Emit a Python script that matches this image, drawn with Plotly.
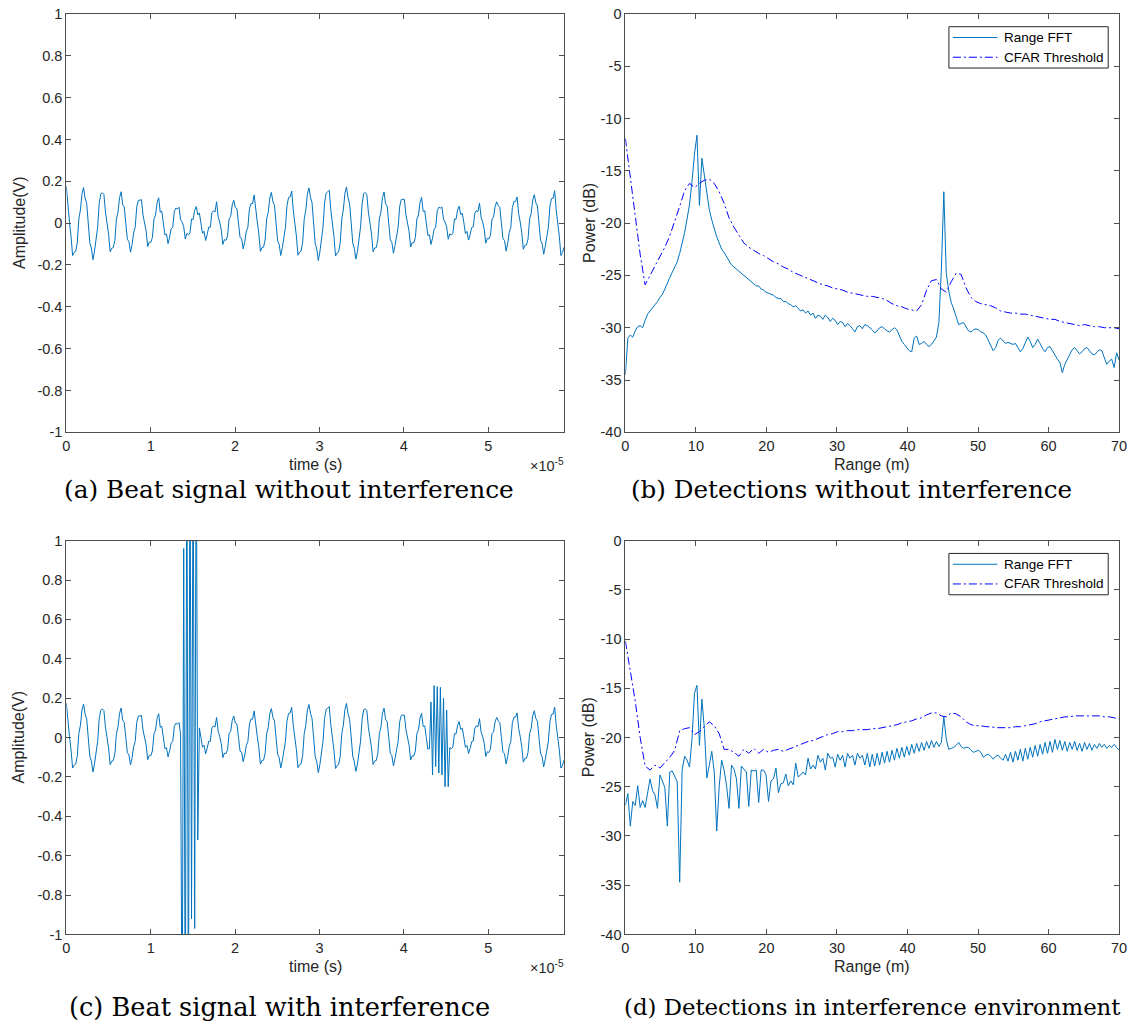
import numpy as np
import plotly.graph_objects as go

# ---------------- data ----------------
SAMPLE_PERIOD = 1.855e-7  # s between beat-signal samples

beat_clean = [
    0.175, 0.063, 0.005, -0.063, -0.155, -0.14, -0.135, -0.093, 0.02, 0.063, 0.14, 0.17,
    0.119, 0.095, 0.0, -0.095, -0.119, -0.175, -0.134, -0.065, -0.02, 0.095, 0.139, 0.145,
    0.137, 0.053, 0.005, -0.053, -0.137, -0.12, -0.117, -0.083, 0.02, 0.053, 0.122, 0.15,
    0.088, 0.077, 0.0, -0.077, -0.088, -0.139, -0.103, -0.047, -0.02, 0.077, 0.108, 0.109,
    0.112, 0.038, 0.005, -0.038, -0.112, -0.091, -0.092, -0.068, 0.02, 0.038, 0.097, 0.121,
    0.052, 0.057, 0.0, -0.057, -0.052, -0.098, -0.067, -0.027, -0.02, 0.057, 0.072, 0.068,
    0.076, 0.017, 0.005, -0.017, -0.076, -0.049, -0.056, -0.047, 0.02, 0.017, 0.061, 0.079,
    0.039, 0.049, 0.0, -0.049, -0.039, -0.083, -0.054, -0.019, -0.02, 0.049, 0.059, 0.053,
    0.102, 0.032, 0.005, -0.032, -0.102, -0.079, -0.082, -0.062, 0.02, 0.032, 0.087, 0.109,
    0.074, 0.069, 0.0, -0.069, -0.074, -0.123, -0.089, -0.039, -0.02, 0.069, 0.094, 0.093,
    0.135, 0.051, 0.005, -0.051, -0.135, -0.117, -0.115, -0.081, 0.02, 0.051, 0.12, 0.147,
    0.102, 0.085, 0.0, -0.085, -0.102, -0.155, -0.117, -0.055, -0.02, 0.085, 0.122, 0.125,
    0.153, 0.062, 0.005, -0.062, -0.153, -0.138, -0.133, -0.092, 0.02, 0.062, 0.138, 0.168,
    0.123, 0.097, 0.0, -0.097, -0.123, -0.179, -0.138, -0.067, -0.02, 0.097, 0.143, 0.149,
    0.157, 0.064, 0.005, -0.064, -0.157, -0.143, -0.137, -0.094, 0.02, 0.064, 0.142, 0.173,
    0.121, 0.092, 0.003, -0.095, -0.121, -0.172, -0.136, -0.063, -0.018, 0.093, 0.141, 0.146,
    0.137, 0.052, 0.005, -0.052, -0.137, -0.119, -0.117, -0.082, 0.02, 0.052, 0.122, 0.149,
    0.092, 0.08, 0.0, -0.08, -0.092, -0.144, -0.107, -0.05, -0.02, 0.08, 0.112, 0.114,
    0.114, 0.039, 0.005, -0.039, -0.114, -0.093, -0.094, -0.069, 0.02, 0.039, 0.099, 0.123,
    0.056, 0.059, 0.0, -0.059, -0.056, -0.102, -0.071, -0.029, -0.02, 0.059, 0.076, 0.072,
    0.077, 0.018, 0.005, -0.018, -0.077, -0.051, -0.057, -0.048, 0.02, 0.018, 0.062, 0.081,
    0.041, 0.047, 0.002, -0.05, -0.04, -0.081, -0.055, -0.021, -0.018, 0.047, 0.06, 0.055,
    0.096, 0.029, 0.005, -0.029, -0.096, -0.072, -0.076, -0.059, 0.02, 0.029, 0.081, 0.102,
    0.083, 0.075, 0.0, -0.075, -0.083, -0.134, -0.098, -0.045, -0.02, 0.075, 0.103, 0.104,
    0.125, 0.046, 0.005, -0.046, -0.125, -0.106, -0.105, -0.076, 0.02, 0.046, 0.11, 0.136,
    0.097, 0.082, 0.0, -0.082, -0.097, -0.149, -0.112, -0.052, -0.02, 0.082, 0.117, 0.119,
    0.155, 0.063, 0.005, -0.063, -0.155, -0.14, -0.115,
]

# interference bursts (sample index where each starts, and the sample values)
burst1_start = 74
burst1 = [-1.6, 0.96, -1.6, 1.6, -1.6, 1.6, -0.92, 1.6, -0.97, 1.6, -0.52]
burst2_start = 233
burst2 = [0.18, -0.19, 0.264, -0.148, 0.259, -0.18, 0.255, -0.19, 0.2, -0.25, 0.14, -0.25]

RANGE_STEP_FFT = 0.35   # m per FFT bin
RANGE_STEP_CFAR = 0.7   # m per CFAR value

fft_clean = [
    -34.5, -31.0, -30.7, -30.9, -30.3, -29.9, -29.8, -30.0, -29.3, -28.7,
    -28.4, -28.1, -27.9, -27.5, -27.1, -26.8, -26.3, -25.7, -25.2, -24.7,
    -24.2, -23.7, -22.9, -22.0, -20.9, -19.6, -18.2, -16.0, -13.4, -11.6,
    -18.3, -13.8, -15.6, -17.3, -18.7, -19.7, -20.6, -21.3, -21.9, -22.5,
    -22.8, -23.2, -23.6, -24.0, -24.2, -24.4, -24.6, -24.8, -25.0, -25.2,
    -25.4, -25.6, -25.8, -26.0, -26.0, -26.3, -26.4, -26.6, -26.7, -26.8,
    -26.9, -27.1, -27.2, -27.2, -27.5, -27.5, -27.7, -27.8, -28.0, -27.9,
    -28.2, -28.4, -28.3, -28.6, -28.4, -28.8, -28.6, -29.1, -28.8, -28.9,
    -29.2, -28.8, -29.0, -29.4, -29.1, -29.3, -29.7, -29.4, -29.5, -29.9,
    -29.6, -29.8, -30.1, -30.4, -29.9, -29.8, -30.1, -29.7, -29.8, -30.0,
    -30.2, -30.5, -30.3, -30.0, -29.9, -30.1, -30.3, -30.4, -30.2, -30.0,
    -30.2, -30.8, -31.3, -31.6, -31.9, -32.2, -32.3, -31.0, -30.8, -31.6,
    -31.5, -31.3, -31.6, -31.8, -31.6, -31.2, -30.9, -29.5, -24.5, -17.0,
    -24.8, -26.5, -27.6, -28.2, -28.9, -29.7, -29.6, -29.5, -29.9, -30.3,
    -30.4, -30.2, -30.1, -30.2, -30.4, -30.5, -30.7, -31.2, -31.8, -32.2,
    -31.9, -31.2, -31.0, -31.3, -31.5, -31.4, -31.5, -31.6, -31.5, -31.9,
    -32.3, -32.0, -31.4, -30.9, -31.3, -31.9, -31.6, -31.1, -31.5, -32.0,
    -32.3, -31.9, -31.8, -32.2, -32.7, -33.0, -33.3, -34.3, -33.5, -33.0,
    -32.5, -32.1, -31.9, -32.2, -32.5, -32.3, -32.0, -31.9, -32.2, -32.5,
    -32.6, -32.3, -32.1, -32.2, -32.8, -33.5, -33.2, -33.0, -33.8, -32.4,
    -33.1,
]

cfar_clean = [
    -11.9, -15.5, -19.3, -23.0, -25.9, -25.0, -24.0, -23.2, -22.3, -21.2,
    -19.9, -18.4, -16.9, -16.2, -16.6, -16.2, -15.9, -15.8, -16.2, -17.0,
    -18.1, -19.5, -20.4, -21.2, -21.9, -22.3, -22.6, -22.9, -23.1, -23.4,
    -23.7, -23.9, -24.2, -24.4, -24.7, -24.9, -25.1, -25.3, -25.5, -25.7,
    -25.9, -26.0, -26.2, -26.3, -26.4, -26.6, -26.7, -26.8, -26.9, -27.0,
    -27.0, -27.1, -27.2, -27.4, -27.7, -27.9, -28.0, -28.2, -28.3, -28.4,
    -27.8, -26.4, -25.5, -25.4, -26.3, -26.6, -25.6, -24.8, -24.9, -26.2,
    -27.1, -27.5, -27.7, -27.8, -27.9, -28.1, -28.4, -28.5, -28.6, -28.6,
    -28.7, -28.7, -28.8, -28.9, -29.0, -29.1, -29.2, -29.2, -29.4, -29.5,
    -29.6, -29.7, -29.8, -29.7, -29.8, -29.9, -29.9, -30.0, -30.0, -30.0,
    -30.1,
]

fft_interf = [
    -26.9, -25.7, -29.0, -26.5, -26.9, -24.9, -27.1, -26.4, -27.1, -25.6,
    -24.2, -25.4, -25.8, -27.2, -23.8, -24.4, -25.1, -29.0, -23.5, -23.4,
    -24.0, -24.5, -34.7, -23.3, -21.9, -22.3, -23.0, -20.1, -15.5, -14.7,
    -20.8, -16.1, -19.1, -24.1, -22.8, -21.4, -23.5, -29.5, -25.0, -22.3,
    -23.3, -24.9, -27.2, -22.8, -23.2, -24.2, -27.2, -22.9, -23.2, -23.5,
    -27.0, -23.3, -23.4, -23.3, -26.6, -23.3, -23.3, -23.8, -26.5, -24.4,
    -24.2, -23.1, -25.6, -24.7, -24.6, -23.7, -24.9, -24.4, -24.8, -22.6,
    -24.0, -23.8, -23.5, -23.8, -22.1, -23.2, -22.8, -23.2, -21.8, -22.5,
    -22.1, -23.3, -21.6, -22.1, -22.0, -23.0, -21.7, -22.3, -21.8, -23.0,
    -21.6, -22.1, -21.8, -22.8, -21.6, -22.1, -21.8, -22.8, -21.6, -23.0,
    -21.7, -22.9, -21.6, -22.8, -21.5, -22.6, -21.4, -22.5, -21.3, -22.3,
    -21.1, -22.1, -21.0, -22.0, -20.9, -21.8, -20.7, -21.6, -20.6, -21.4,
    -20.5, -21.3, -20.4, -21.1, -20.3, -21.0, -20.4, -20.9, -20.5, -17.9,
    -20.2, -21.2, -21.1, -21.0, -20.8, -20.5, -20.9, -21.1, -21.0, -21.0,
    -21.3, -21.5, -21.4, -21.3, -21.5, -22.0, -21.8, -21.7, -21.9, -22.2,
    -21.9, -21.8, -22.1, -22.3, -21.7, -22.4, -21.5, -22.5, -21.4, -22.3,
    -21.2, -22.4, -21.1, -22.2, -21.0, -22.0, -20.8, -21.9, -20.7, -21.7,
    -20.5, -21.6, -20.4, -21.5, -20.2, -21.2, -20.3, -21.3, -20.4, -21.4,
    -20.5, -21.2, -20.4, -21.3, -20.6, -21.4, -20.5, -21.2, -20.6, -21.3,
    -20.7, -21.1, -20.6, -21.0, -20.7, -21.1, -20.8, -21.0, -20.7, -21.0,
    -21.3,
]

cfar_interf = [
    -10.2, -13.1, -16.3, -20.0, -22.9, -23.3, -22.8, -23.1, -22.6, -22.0,
    -21.3, -19.3, -19.1, -19.0, -19.7, -19.4, -18.9, -18.4, -18.8, -19.6,
    -21.2, -21.2, -21.5, -21.9, -21.2, -21.6, -21.1, -21.6, -21.2, -21.5,
    -21.3, -21.2, -21.4, -21.2, -21.0, -20.8, -20.6, -20.4, -20.3, -20.1,
    -19.9, -19.7, -19.6, -19.4, -19.4, -19.3, -19.3, -19.2, -19.2, -19.2,
    -19.1, -19.1, -19.0, -18.9, -18.8, -18.7, -18.5, -18.4, -18.3, -18.1,
    -18.0, -17.7, -17.5, -17.5, -17.8, -17.9, -17.5, -17.6, -17.9, -18.4,
    -18.7, -18.8, -18.8, -18.9, -18.9, -19.0, -19.0, -19.0, -19.0, -18.9,
    -18.9, -18.8, -18.7, -18.6, -18.4, -18.3, -18.2, -18.1, -18.0, -17.9,
    -17.9, -17.8, -17.8, -17.8, -17.8, -17.8, -17.8, -17.9, -17.9, -18.0,
    -18.1,
]

time_ticks = [0, 1, 2, 3, 4, 5]
amp_ticks = [-1, -0.8, -0.6, -0.4, -0.2, 0, 0.2, 0.4, 0.6, 0.8, 1]
range_ticks = [0, 10, 20, 30, 40, 50, 60, 70]
power_ticks = [-40, -35, -30, -25, -20, -15, -10, -5, 0]

legend_names = ["Range FFT", "CFAR Threshold"]
captions = ["(a) Beat signal without interference",
            "(b) Detections without interference",
            "(c) Beat signal with interference",
            "(d) Detections in interference environment"]

# ---------------- derived series ----------------
t = np.arange(len(beat_clean)) * SAMPLE_PERIOD
beat_interf = list(beat_clean)
beat_interf[burst1_start:burst1_start + len(burst1)] = burst1
beat_interf[burst2_start:burst2_start + len(burst2)] = burst2
r_fft_clean = np.arange(len(fft_clean)) * RANGE_STEP_FFT
r_fft_interf = np.arange(len(fft_interf)) * RANGE_STEP_FFT
r_cfar_clean = np.arange(len(cfar_clean)) * RANGE_STEP_CFAR
r_cfar_interf = np.arange(len(cfar_interf)) * RANGE_STEP_CFAR

# ---------------- layout helpers ----------------
W, H = 1136, 1034
def px(x):
    return x / W
def py(y):
    return 1 - y / H

LEFT = (63, 566)
RIGHT = (628, 1127)
TOP = (6, 431)
BOT = (541, 941)

BLUE = '#0072BD'
CFAR_BLUE = '#0000FF'
CFAR_DASH = '8px,3px,2px,3px'
SANS = 'Liberation Sans, Arial, sans-serif'
TFONT = dict(family=SANS, size=14.5, color='#262626')
AXC = '#4d4d4d'

def fmt(v):
    return '%g' % v

def axis_style(**kw):
    d = dict(showline=True, linecolor=AXC, linewidth=1, mirror='ticks',
             ticks='inside', ticklen=5, tickwidth=1, tickcolor=AXC,
             showgrid=False, zeroline=False, tickfont=TFONT, fixedrange=True)
    d.update(kw)
    return d

fig = go.Figure()
line_fft = dict(color=BLUE, width=1)
line_cfar = dict(color=CFAR_BLUE, width=1, dash=CFAR_DASH)

fig.add_trace(go.Scatter(x=t, y=beat_clean, mode='lines', line=line_fft,
                         xaxis='x', yaxis='y', showlegend=False))
fig.add_trace(go.Scatter(x=r_fft_clean, y=fft_clean, mode='lines', line=line_fft,
                         name=legend_names[0], xaxis='x2', yaxis='y2', showlegend=False))
fig.add_trace(go.Scatter(x=r_cfar_clean, y=cfar_clean, mode='lines', line=line_cfar,
                         name=legend_names[1], xaxis='x2', yaxis='y2', showlegend=False))
fig.add_trace(go.Scatter(x=t, y=beat_interf, mode='lines', line=line_fft,
                         xaxis='x3', yaxis='y3', showlegend=False))
fig.add_trace(go.Scatter(x=r_fft_interf, y=fft_interf, mode='lines', line=line_fft,
                         name=legend_names[0], xaxis='x4', yaxis='y4', showlegend=False))
fig.add_trace(go.Scatter(x=r_cfar_interf, y=cfar_interf, mode='lines', line=line_cfar,
                         name=legend_names[1], xaxis='x4', yaxis='y4', showlegend=False))

tvals = [v * 1e-5 for v in time_ticks]
time_axis = dict(range=[0, t[-1]], tickvals=tvals, ticktext=[fmt(v) for v in time_ticks])
amp_axis = dict(range=[-1, 1], tickvals=amp_ticks, ticktext=[fmt(v) for v in amp_ticks])
rng_axis = dict(range=[0, 70], tickvals=range_ticks, ticktext=[fmt(v) for v in range_ticks])
pow_axis = dict(range=[-40, 0], tickvals=power_ticks, ticktext=[fmt(v) for v in power_ticks])

fig.update_layout(
    width=W, height=H, margin=dict(l=0, r=0, t=0, b=0),
    paper_bgcolor='white', plot_bgcolor='white', showlegend=False,
    xaxis=axis_style(domain=[px(LEFT[0]), px(LEFT[1])], anchor='y', **time_axis),
    yaxis=axis_style(domain=[py(TOP[1]), py(TOP[0])], anchor='x', **amp_axis),
    xaxis2=axis_style(domain=[px(RIGHT[0]), px(RIGHT[1])], anchor='y2', **rng_axis),
    yaxis2=axis_style(domain=[py(TOP[1]), py(TOP[0])], anchor='x2', **pow_axis),
    xaxis3=axis_style(domain=[px(LEFT[0]), px(LEFT[1])], anchor='y3', **time_axis),
    yaxis3=axis_style(domain=[py(BOT[1]), py(BOT[0])], anchor='x3', **amp_axis),
    xaxis4=axis_style(domain=[px(RIGHT[0]), px(RIGHT[1])], anchor='y4', **rng_axis),
    yaxis4=axis_style(domain=[py(BOT[1]), py(BOT[0])], anchor='x4', **pow_axis),
)

LFONT = dict(family=SANS, size=16, color='#262626')
GFONT = dict(family=SANS, size=13.5, color='#000000')
anns = []
shapes = []
for (l, r), (tp, bt), xl, yl in [
        (LEFT, TOP, 'time (s)', 'Amplitude(V)'),
        (RIGHT, TOP, 'Range (m)', 'Power (dB)'),
        (LEFT, BOT, 'time (s)', 'Amplitude(V)'),
        (RIGHT, BOT, 'Range (m)', 'Power (dB)')]:
    anns.append(dict(text=xl, x=px((l + r) / 2), y=py(bt + 33), xref='paper', yref='paper',
                     xanchor='center', yanchor='middle', showarrow=False, font=LFONT))
    ylx = l - 48 if l == LEFT[0] else l - 37
    anns.append(dict(text=yl, x=px(ylx), y=py((tp + bt) / 2), xref='paper', yref='paper',
                     xanchor='center', yanchor='middle', showarrow=False, font=LFONT, textangle=-90))
    if l == LEFT[0]:
        anns.append(dict(text='\u00d710<sup>-5</sup>', x=px(r + 2), y=py(bt + 33), xref='paper', yref='paper',
                         xanchor='right', yanchor='middle', showarrow=False, font=TFONT))
    else:
        # legend box drawn in the top-right corner of the detection panels
        bl, br = r - 172, r - 11
        bt0 = tp + 13
        bb0 = bt0 + 42
        shapes.append(dict(type='rect', xref='paper', yref='paper', x0=px(bl), x1=px(br),
                           y0=py(bb0), y1=py(bt0), line=dict(color='#262626', width=1),
                           fillcolor='white', layer='above'))
        for k, (nm, ln) in enumerate(zip(legend_names, [line_fft, line_cfar])):
            yy = bt0 + 11 + 20 * k
            shapes.append(dict(type='line', xref='paper', yref='paper', x0=px(bl + 4), x1=px(bl + 49),
                               y0=py(yy), y1=py(yy), line=ln, layer='above'))
            anns.append(dict(text=nm, x=px(bl + 54), y=py(yy), xref='paper', yref='paper',
                             xanchor='left', yanchor='middle', showarrow=False, font=GFONT))

cap_centers = [288, 857, 278, 877]
cap_y = [489, 489, 1015, 1015]
cap_sizes = [24.8, 24.6, 25.6, 22.8]
for c, cx, cy, cs in zip(captions, cap_centers, cap_y, cap_sizes):
    anns.append(dict(text=c, x=px(cx), y=py(cy), xref='paper', yref='paper',
                     xanchor='center', yanchor='middle', showarrow=False,
                     font=dict(family='DejaVu Serif, serif', size=cs, color='#000000')))
fig.update_layout(annotations=anns, shapes=shapes)

fig.write_html("out.html")
